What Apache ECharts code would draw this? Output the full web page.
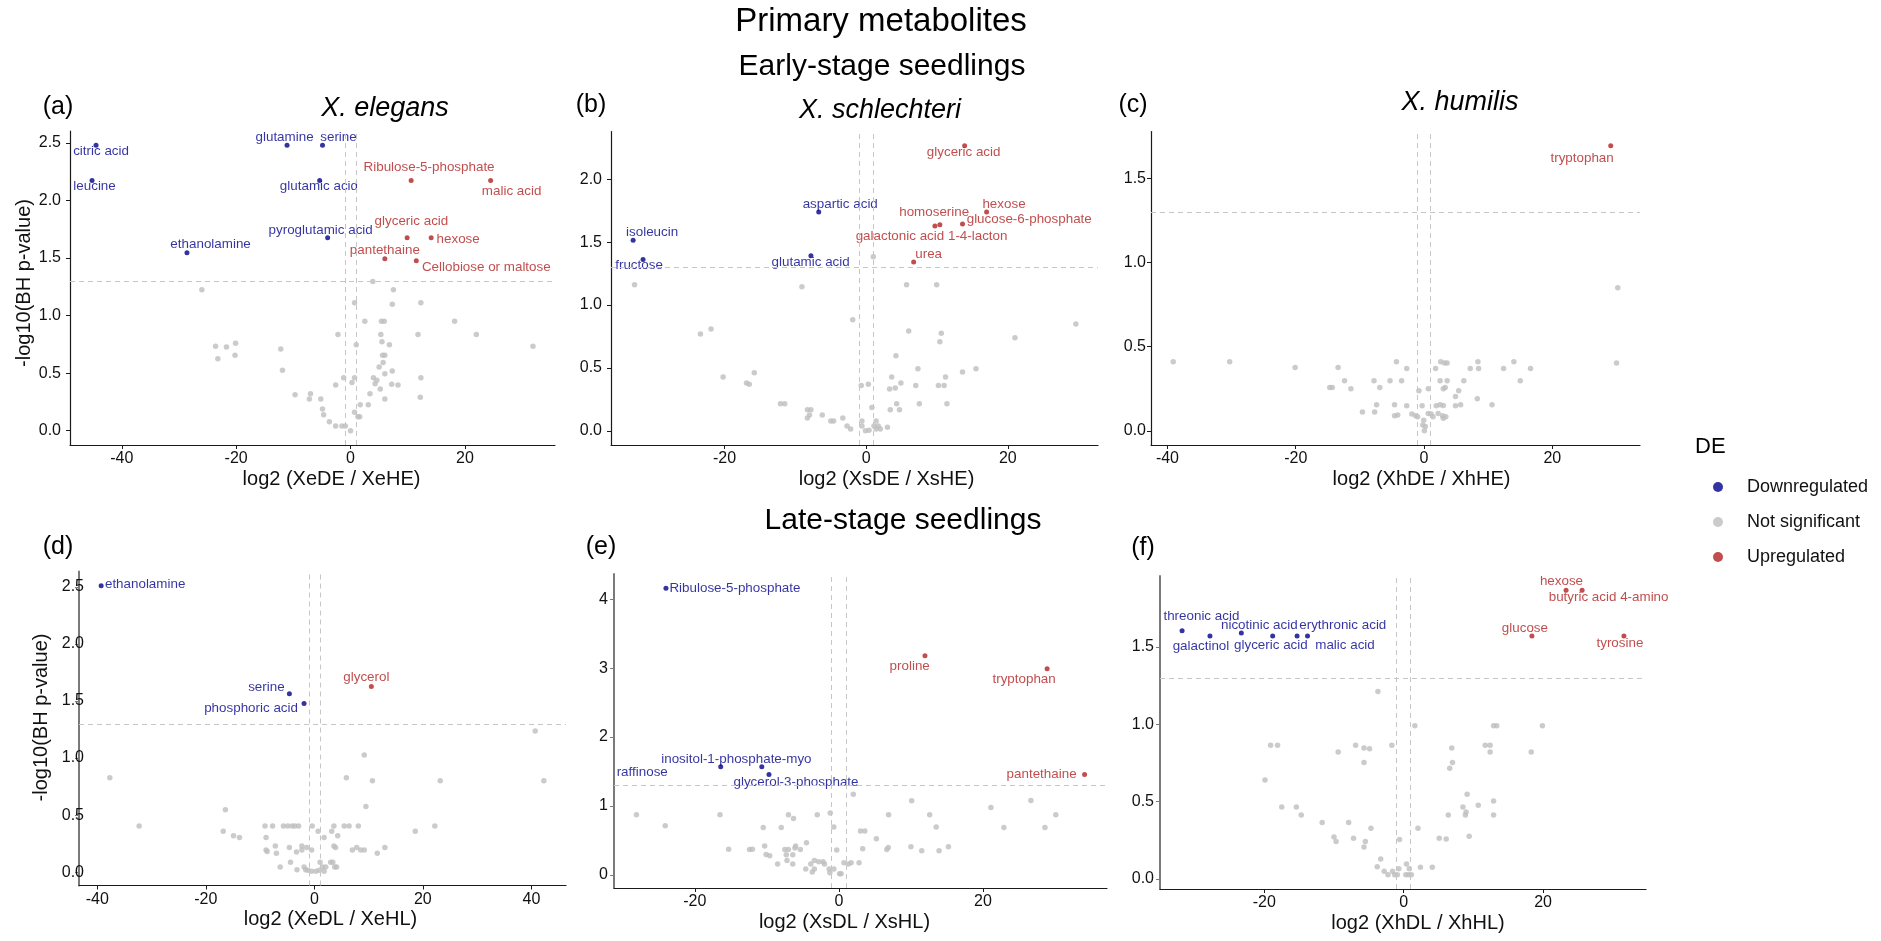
<!DOCTYPE html>
<html>
<head>
<meta charset="utf-8">
<script src="https://cdn.jsdelivr.net/npm/echarts@6/dist/echarts.min.js"></script>
<style>
  html, body { margin: 0; padding: 0; background: #ffffff; }
  #chart { width: 1881px; height: 941px; }
</style>
</head>
<body>
<div id="chart"></div>
<script>
// ---------------- data: [name, log2 fold change, -log10(BH p)] ----------------
// (a) X. elegans, early-stage seedlings
const elegansEarlyDown = [
  ['citric acid', -44.5, 2.48], ['leucine', -45.2, 2.175], ['glutamine', -11.1, 2.48],
  ['serine', -4.9, 2.48], ['glutamic acid', -5.4, 2.175], ['pyroglutamic acid', -4.0, 1.676],
  ['ethanolamine', -28.6, 1.546]
];
const elegansEarlyUp = [
  ['Ribulose-5-phosphate', 10.6, 2.175], ['malic acid', 24.5, 2.175], ['glyceric acid', 9.9, 1.676],
  ['hexose', 14.1, 1.676], ['pantethaine', 6.0, 1.494], ['Cellobiose or maltose', 11.5, 1.476]
];
const elegansEarlyNS = [
  [-26.0,1.224],[-23.6,0.734],[-23.2,0.626],[-21.7,0.728],[-20.1,0.760],[-20.2,0.655],[-12.2,0.711],
  [-11.9,0.525],[-9.7,0.313],[-7.2,0.276],[-7.0,0.322],[-5.2,0.276],[-4.9,0.189],[-4.7,0.139],
  [-3.7,0.078],[-2.6,0.397],[-2.6,0.041],[-2.2,0.835],[-1.5,0.041],[-0.9,0.041],[-1.2,0.461],
  [0.0,0.0],[0.25,0.42],[0.7,0.461],[0.7,1.111],[0.7,0.16],[1.0,0.748],[1.3,0.122],[1.6,0.122],
  [1.7,0.226],[2.5,0.951],[3.1,0.226],[3.4,0.322],[3.9,1.296],[4.0,0.461],[4.3,0.409],[4.6,0.438],
  [5.0,0.554],[5.2,0.363],[5.3,0.835],[5.4,0.951],[5.9,0.951],[5.5,0.774],[5.6,0.655],[6.0,0.655],
  [5.7,0.592],[6.0,0.496],[6.0,0.276],[6.8,0.748],[7.2,0.403],[7.3,0.519],[7.3,1.099],[7.5,1.224],
  [8.3,0.397],[11.8,0.835],[12.3,1.111],[12.3,0.461],[12.2,0.29],[18.2,0.951],[22.0,0.835],[31.9,0.734]
];

// (b) X. schlechteri, early-stage seedlings
const schlechteriEarlyDown = [
  ['isoleucin', -32.9, 1.515], ['fructose', -31.5, 1.363], ['aspartic acid', -6.7, 1.740],
  ['glutamic acid', -7.8, 1.393]
];
const schlechteriEarlyUp = [
  ['glyceric acid', 13.9, 2.268], ['hexose', 17.0, 1.740], ['homoserine', 9.7, 1.629],
  ['galactonic acid 1-4-lacton', 10.4, 1.639], ['glucose-6-phosphate', 13.6, 1.645], ['urea', 6.7, 1.342]
];
const schlechteriEarlyNS = [
  [-32.7,1.162],[-23.4,0.769],[-21.9,0.809],[-20.2,0.427],[-16.9,0.379],[-16.5,0.371],[-15.8,0.462],
  [-12.1,0.215],[-11.5,0.215],[-9.07,1.146],[-8.3,0.167],[-7.8,0.167],[-8.3,0.101],[-8.0,0.125],
  [-6.2,0.125],[-5.0,0.077],[-4.6,0.077],[-3.3,0.101],[-2.7,0.037],[-2.2,0.013],[-1.9,0.883],
  [-0.7,0.361],[-0.6,0.077],[-0.6,0.037],[-0.1,0.0],[0.3,0.371],[0.4,0.003],[0.8,0.186],[1.0,1.385],
  [1.1,0.037],[1.4,0.077],[1.4,0.013],[1.7,0.037],[2.0,0.013],[3.0,0.027],[3.3,0.332],[3.4,0.167],
  [3.6,0.427],[4.1,0.34],[4.2,0.597],[4.3,0.215],[4.7,0.167],[4.9,0.379],[5.7,1.162],[6.0,0.793],
  [7.0,0.361],[7.3,0.493],[7.5,0.215],[9.95,1.162],[10.2,0.361],[10.4,0.708],[10.6,0.775],[11.0,0.361],
  [11.2,0.427],[11.4,0.215],[13.6,0.467],[15.5,0.493],[21.0,0.74],[29.6,0.849]
];

// (c) X. humilis, early-stage seedlings
const humilisEarlyDown = [];
const humilisEarlyUp = [['tryptophan', 29.1, 1.696]];
const humilisEarlyNS = [
  [-39.1,0.411],[-30.3,0.411],[-20.1,0.377],[-14.7,0.258],[-14.3,0.258],[-13.4,0.377],[-12.4,0.298],
  [-11.4,0.25],[-9.6,0.111],[-7.8,0.298],[-7.7,0.111],[-7.4,0.155],[-6.9,0.258],[-5.3,0.298],
  [-4.6,0.155],[-4.6,0.089],[-4.1,0.093],[-4.3,0.411],[-3.5,0.298],[-2.7,0.149],[-2.7,0.371],
  [-1.9,0.099],[-1.3,0.089],[-1.0,0.083],[-0.8,0.238],[-0.3,0.149],[-0.05,0.062],[-0.2,0.034],
  [0.2,0.026],[0.05,0.0],[0.66,0.25],[0.66,0.103],[1.1,0.099],[1.4,0.083],[1.8,0.371],[1.9,0.149],
  [2.2,0.103],[2.5,0.298],[2.5,0.155],[2.6,0.411],[2.9,0.089],[3.0,0.151],[3.0,0.25],[3.0,0.075],
  [3.2,0.403],[3.4,0.083],[3.6,0.403],[3.6,0.298],[3.3,0.258],[4.9,0.204],[4.9,0.149],[5.4,0.238],
  [5.7,0.155],[6.2,0.298],[7.2,0.371],[8.4,0.411],[8.5,0.371],[8.3,0.19],[10.6,0.155],[12.4,0.371],
  [14.0,0.411],[15.0,0.298],[16.6,0.371],[30.0,0.403],[30.2,0.851]
];

// (d) X. elegans, late-stage seedlings
const elegansLateDown = [
  ['ethanolamine', -39.3, 2.509], ['serine', -4.6, 1.564], ['phosphoric acid', -1.9, 1.477]
];
const elegansLateUp = [['glycerol', 10.5, 1.626]];
const elegansLateNS = [
  [-37.7,0.827],[-32.3,0.406],[-16.8,0.36],[-16.4,0.547],[-14.9,0.319],[-13.8,0.304],[-9.1,0.406],
  [-8.9,0.304],[-8.9,0.196],[-8.7,0.181],[-7.7,0.406],[-7.2,0.231],[-7.0,0.167],[-6.3,0.047],
  [-5.7,0.406],[-4.9,0.406],[-4.1,0.406],[-3.6,0.406],[-2.9,0.406],[-4.6,0.216],[-4.4,0.088],
  [-3.3,0.178],[-3.2,0.023],[-2.3,0.231],[-2.3,0.196],[-1.9,0.047],[-1.4,0.216],[-1.6,0.023],
  [-1.2,0.018],[-0.5,0.196],[-0.4,0.406],[-0.5,0.009],[0.3,0.009],[0.7,0.36],[1.05,0.088],[0.9,0.018],
  [1.5,0.047],[1.8,0.304],[1.8,0.009],[2.1,0.047],[3.0,0.088],[3.2,0.36],[3.4,0.088],[3.6,0.406],
  [3.6,0.231],[3.9,0.216],[3.75,0.047],[4.1,0.047],[4.3,0.319],[5.5,0.406],[5.9,0.827],[6.4,0.406],
  [7.0,0.196],[7.8,0.216],[8.1,0.406],[8.55,0.196],[9.2,0.196],[9.2,1.026],[9.5,0.576],[10.7,0.801],
  [11.6,0.167],[13.0,0.216],[18.6,0.36],[22.2,0.406],[23.2,0.801],[40.7,1.237],[42.3,0.801]
];

// (e) X. schlechteri, late-stage seedlings
const schlechteriLateDown = [
  ['Ribulose-5-phosphate', -24.0, 4.16], ['raffinose', -16.4, 1.567],
  ['inositol-1-phosphate-myo', -10.7, 1.567], ['glycerol-3-phosphate', -9.7, 1.456]
];
const schlechteriLateUp = [
  ['proline', 11.95, 3.18], ['tryptophan', 28.9, 2.99], ['pantethaine', 34.1, 1.456]
];
const schlechteriLateNS = [
  [-28.1,0.871],[-24.1,0.711],[-16.5,0.871],[-15.3,0.372],[-12.4,0.368],[-12.0,0.372],[-10.5,0.687],
  [-10.3,0.416],[-10.1,0.295],[-9.6,0.276],[-8.5,0.155],[-8.0,0.687],[-7.5,0.368],[-7.0,0.368],
  [-7.3,0.29],[-7.2,0.208],[-7.0,0.871],[-6.4,0.155],[-6.4,0.29],[-6.3,0.817],[-6.1,0.387],[-6.0,0.416],
  [-5.35,0.368],[-4.6,0.082],[-4.5,0.464],[-3.9,0.155],[-3.7,0.039],[-3.4,0.208],[-3.4,0.082],
  [-3.0,0.871],[-2.8,0.189],[-2.2,0.189],[-2.0,0.155],[-1.35,0.082],[-1.25,0.029],[-1.2,0.895],
  [-0.7,0.692],[-0.7,0.082],[-0.3,0.358],[0.1,0.015],[0.3,0.015],[0.7,0.174],[1.3,0.155],[1.7,0.174],
  [2.0,1.17],[2.8,0.174],[3.0,0.634],[3.6,0.634],[3.3,0.377],[5.2,0.522],[6.65,0.368],[6.9,0.871],
  [6.85,0.397],[10.0,0.406],[10.1,1.074],[11.5,0.348],[12.6,0.871],[13.5,0.692],[13.9,0.348],
  [15.2,0.406],[21.1,0.977],[22.9,0.687],[26.65,1.079],[28.6,0.687],[30.1,0.871]
];

// (f) X. humilis, late-stage seedlings
const humilisLateDown = [
  ['threonic acid', -31.8, 1.606], ['galactinol', -27.8, 1.571], ['nicotinic acid', -23.3, 1.591],
  ['glyceric acid', -18.8, 1.571], ['erythronic acid', -15.3, 1.571], ['malic acid', -13.8, 1.571]
];
const humilisLateUp = [
  ['hexose', 23.3, 1.868], ['butyric acid 4-amino', 25.6, 1.868], ['glucose', 18.4, 1.571],
  ['tyrosine', 31.6, 1.571]
];
const humilisLateNS = [
  [-19.9,0.639],[-19.1,0.864],[-18.1,0.864],[-17.5,0.465],[-15.4,0.465],[-14.7,0.413],[-11.7,0.364],
  [-10.0,0.271],[-9.7,0.242],[-9.4,0.82],[-7.9,0.364],[-7.2,0.262],[-6.9,0.864],[-5.7,0.846],
  [-4.9,0.842],[-5.7,0.753],[-5.5,0.242],[-5.7,0.206],[-4.7,0.327],[-3.7,1.212],[-3.8,0.078],
  [-3.3,0.128],[-2.8,0.048],[-2.25,0.026],[-1.7,0.864],[-1.6,0.048],[-1.3,0.026],[-0.9,0.026],
  [-0.7,0.065],[-0.6,0.255],[0.3,0.026],[0.4,0.095],[0.7,0.026],[0.8,0.065],[1.1,0.026],[1.6,0.991],
  [2.05,0.327],[2.4,0.074],[4.1,0.074],[5.1,0.262],[6.1,0.258],[6.4,0.413],[6.6,0.716],[6.9,0.846],
  [7.0,0.753],[8.5,0.465],[8.85,0.413],[8.95,0.433],[9.1,0.548],[9.4,0.275],[10.7,0.476],[11.7,0.864],
  [12.4,0.864],[12.4,0.82],[12.9,0.504],[12.9,0.413],[12.9,0.991],[13.35,0.991],[18.3,0.82],[19.9,0.991]
];

// axis tick values
const xTicksEarlyElegans = [-40, -20, 0, 20];
const xTicksEarlySchlechteri = [-20, 0, 20];
const xTicksEarlyHumilis = [-40, -20, 0, 20];
const xTicksLateElegans = [-40, -20, 0, 20, 40];
const xTicksLateSchlechteri = [-20, 0, 20];
const xTicksLateHumilis = [-20, 0, 20];
const yTicksEarlyElegans = [0, 0.5, 1, 1.5, 2, 2.5];
const yTicksEarlySchlechteri = [0, 0.5, 1, 1.5, 2];
const yTicksEarlyHumilis = [0, 0.5, 1, 1.5];
const yTicksLateElegans = [0, 0.5, 1, 1.5, 2, 2.5];
const yTicksLateSchlechteri = [0, 1, 2, 3, 4];
const yTicksLateHumilis = [0, 0.5, 1, 1.5];

// significance cut-offs
const FC_CUT = 1;
const P_CUT = -Math.log10(0.05);

// ---------------- layout ----------------
const FONT = "'Liberation Sans', Arial, Helvetica, sans-serif";
const BLUE = '#00008B', RED = '#B22222', GREY = '#BEBEBE', DASH = '#C6C6C6';

// label offsets (px) from each point, per panel
const labelNudge = {
  a: { 'citric acid': [5, 6], 'leucine': [2.5, 6], 'glutamine': [-2.5, -7.7], 'serine': [16, -7.7],
       'glutamic acid': [-0.7, 6], 'pyroglutamic acid': [-7, -8], 'ethanolamine': [23.6, -8.3],
       'Ribulose-5-phosphate': [17.9, -13.3], 'malic acid': [21, 11], 'glyceric acid': [4.3, -16.7],
       'hexose': [27, 1.7], 'pantethaine': [0, -8.7], 'Cellobiose or maltose': [70, 6.3] },
  b: { 'glyceric acid': [-1, 6.7], 'aspartic acid': [21.5, -8], 'isoleucin': [19, -8], 'fructose': [-4, 5.7],
       'glutamic acid': [-0.3, 6.3], 'hexose': [17.4, -8], 'homoserine': [-0.7, -13.7],
       'galactonic acid 1-4-lacton': [-8.3, 11.7], 'glucose-6-phosphate': [66.7, -5], 'urea': [15, -7.7] },
  c: { 'tryptophan': [-28.6, 13] },
  d: { 'ethanolamine': [44, -1], 'serine': [-23, -6.7], 'phosphoric acid': [-53, 4.7], 'glycerol': [-5, -9.7] },
  e: { 'Ribulose-5-phosphate': [69, -0.3], 'raffinose': [-78.5, 5.7], 'inositol-1-phosphate-myo': [-25.4, -8],
       'glycerol-3-phosphate': [27, 8.3], 'proline': [-15.3, 10.3], 'tryptophan': [-23, 10.3],
       'pantethaine': [-43, 0] },
  f: { 'threonic acid': [19.3, -14.7], 'galactinol': [-9, 10.3], 'nicotinic acid': [18, -8],
       'glyceric acid': [-1.8, 9], 'erythronic acid': [45.7, -10.3], 'malic acid': [37.5, 9],
       'hexose': [-4.6, -8.7], 'butyric acid 4-amino': [26.5, 6.7], 'glucose': [-7, -8], 'tyrosine': [-4, 7] }
};

// grid boxes; xNameShift / yNameShift move the axis titles off the panel centre (px)
const panels = [
  { key: 'a', grid: { left: 70, top: 131, width: 485, height: 314 }, ns: elegansEarlyNS, down: elegansEarlyDown, up: elegansEarlyUp,
    xTicks: xTicksEarlyElegans, yTicks: yTicksEarlyElegans, xName: 'log2 (XeDE / XeHE)', yName: '-log10(BH p-value)',
    yDec: 1, yMargin: 9, bottomRow: false, xNameShift: 19, yNameShift: 5 },
  { key: 'b', grid: { left: 611, top: 131.5, width: 487, height: 313.5 }, ns: schlechteriEarlyNS, down: schlechteriEarlyDown, up: schlechteriEarlyUp,
    xTicks: xTicksEarlySchlechteri, yTicks: yTicksEarlySchlechteri, xName: 'log2 (XsDE / XsHE)', yName: '',
    yDec: 1, yMargin: 9, bottomRow: false, xNameShift: 32, yNameShift: 0 },
  { key: 'c', grid: { left: 1151, top: 131.5, width: 489, height: 313.5 }, ns: humilisEarlyNS, down: humilisEarlyDown, up: humilisEarlyUp,
    xTicks: xTicksEarlyHumilis, yTicks: yTicksEarlyHumilis, xName: 'log2 (XhDE / XhHE)', yName: '',
    yDec: 1, yMargin: 5, bottomRow: false, xNameShift: 26, yNameShift: 0 },
  { key: 'd', grid: { left: 79, top: 571.5, width: 487, height: 314 }, ns: elegansLateNS, down: elegansLateDown, up: elegansLateUp,
    xTicks: xTicksLateElegans, yTicks: yTicksLateElegans, xName: 'log2 (XeDL / XeHL)', yName: '-log10(BH p-value)',
    yDec: 1, yMargin: -5, bottomRow: true, xNameShift: 8, yNameShift: 11 },
  { key: 'e', grid: { left: 614, top: 574, width: 493, height: 314 }, ns: schlechteriLateNS, down: schlechteriLateDown, up: schlechteriLateUp,
    xTicks: xTicksLateSchlechteri, yTicks: yTicksLateSchlechteri, xName: 'log2 (XsDL / XsHL)', yName: '',
    yDec: 0, yMargin: 6, bottomRow: true, xNameShift: -16, yNameShift: 0 },
  { key: 'f', grid: { left: 1160, top: 576, width: 486, height: 313 }, ns: humilisLateNS, down: humilisLateDown, up: humilisLateUp,
    xTicks: xTicksLateHumilis, yTicks: yTicksLateHumilis, xName: 'log2 (XhDL / XhHL)', yName: '',
    yDec: 1, yMargin: 6, bottomRow: true, xNameShift: 15, yNameShift: 0 }
];

// ggplot-style 5% expansion of the data range
function expandRange(vals) {
  const lo = Math.min(...vals), hi = Math.max(...vals);
  const pad = (hi - lo) * 0.05;
  return [lo - pad, hi + pad];
}

// padding that moves a centred name by `shift` px along its own direction
function shiftPad(shift) {
  return shift >= 0 ? [0, 0, 0, 2 * shift] : [0, -2 * shift, 0, 0];
}

const option = {
  backgroundColor: '#ffffff',
  animation: false,
  grid: [], xAxis: [], yAxis: [], series: [],
  legend: {
    data: ['Downregulated', 'Not significant', 'Upregulated'],
    orient: 'vertical', left: 1708, top: 472,
    itemWidth: 10, itemHeight: 10, itemGap: 15, icon: 'circle',
    selectedMode: false,
    textStyle: { fontFamily: FONT, fontSize: 18, color: '#111111', lineHeight: 20, padding: [0, 0, 0, 19] }
  },
  graphic: []
};

panels.forEach((p, i) => {
  const xs = [], ys = [];
  [...p.ns, ...p.down.map(d => [d[1], d[2]]), ...p.up.map(d => [d[1], d[2]])].forEach(v => { xs.push(v[0]); ys.push(v[1]); });
  const xr = expandRange(xs), yr = expandRange(ys);
  const axisCol = '#1a1a1a';
  const yAxisCol = p.bottomRow ? '#7a7a7a' : '#1a1a1a';

  option.grid.push(Object.assign({ outerBoundsMode: 'none', containLabel: false }, p.grid));

  option.xAxis.push({
    type: 'value', gridIndex: i, min: xr[0], max: xr[1],
    name: p.xName, nameLocation: 'middle', nameGap: 24,
    nameTextStyle: { fontFamily: FONT, fontSize: 20, color: '#111111', padding: shiftPad(p.xNameShift) },
    axisLine: { show: true, onZero: false, lineStyle: { color: axisCol, width: 1.2 } },
    axisTick: { show: true, length: 4, lineStyle: { color: axisCol }, customValues: p.xTicks },
    axisLabel: { fontFamily: FONT, fontSize: 16, color: '#111111', margin: 6, customValues: p.xTicks,
                 formatter: v => String(Math.round(v)) },
    splitLine: { show: false }
  });

  option.yAxis.push({
    type: 'value', gridIndex: i, min: yr[0], max: yr[1],
    name: p.yName, nameLocation: 'middle', nameGap: 28, nameRotate: 90,
    nameTextStyle: { fontFamily: FONT, fontSize: 20, color: '#111111', padding: shiftPad(p.yNameShift) },
    axisLine: { show: true, onZero: false, lineStyle: { color: yAxisCol, width: p.bottomRow ? 2 : 1.2 } },
    axisTick: { show: true, length: 4, lineStyle: { color: yAxisCol }, customValues: p.yTicks },
    axisLabel: { fontFamily: FONT, fontSize: 16, color: '#111111', margin: p.yMargin, customValues: p.yTicks,
                 formatter: v => v.toFixed(p.yDec) },
    splitLine: { show: false }
  });

  option.series.push({
    type: 'scatter', name: 'Not significant', xAxisIndex: i, yAxisIndex: i,
    data: p.ns, symbolSize: 5.5, itemStyle: { color: GREY }, z: 2,
    emphasis: { disabled: true }, silent: true,
    markLine: {
      silent: true, symbol: ['none', 'none'], label: { show: false },
      lineStyle: { color: DASH, width: 1, type: [5, 4] },
      data: [{ xAxis: -FC_CUT }, { xAxis: FC_CUT }, { yAxis: P_CUT }]
    }
  });

  const labelled = (rows, color, seriesName) => ({
    type: 'scatter', name: seriesName, xAxisIndex: i, yAxisIndex: i, symbolSize: 5,
    itemStyle: { color: color }, z: 3, emphasis: { disabled: true }, silent: true,
    label: { show: true, position: 'inside', formatter: '{b}', color: color,
             fontFamily: FONT, fontSize: 13.4 },
    data: rows.map(r => ({
      name: r[0], value: [r[1], r[2]],
      label: { offset: (labelNudge[p.key][r[0]] || [0, -10]) }
    }))
  });
  option.series.push(labelled(p.down, BLUE, 'Downregulated'));
  option.series.push(labelled(p.up, RED, 'Upregulated'));
});

// titles, panel tags, legend heading
function txt(text, x, y, size, extra) {
  return { type: 'text', x: x, y: y, silent: true,
    style: Object.assign({ text: text, fontFamily: FONT, fontSize: size, fill: '#000000',
                           align: 'center', verticalAlign: 'middle' }, extra || {}) };
}
option.graphic.push(
  txt('Primary metabolites', 881, 22, 33),
  txt('Early-stage seedlings', 882, 67, 30),
  txt('Late-stage seedlings', 903, 521, 30),
  txt('X. elegans', 385, 108, 27, { fontStyle: 'italic' }),
  txt('X. schlechteri', 880, 110, 27, { fontStyle: 'italic' }),
  txt('X. humilis', 1460, 102, 27, { fontStyle: 'italic' }),
  txt('(a)', 58, 107, 25), txt('(b)', 591, 105, 25), txt('(c)', 1133, 105, 25),
  txt('(d)', 58, 547, 25), txt('(e)', 601, 547, 25), txt('(f)', 1143, 548, 25),
  txt('DE', 1695, 447, 22, { align: 'left' })
);

const chart = echarts.init(document.getElementById('chart'), null, { renderer: 'canvas' });
chart.setOption(option);
</script>
</body>
</html>
